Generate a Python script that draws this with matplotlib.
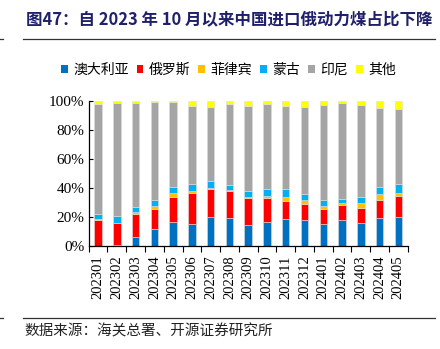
import matplotlib
matplotlib.use("Agg")
import matplotlib.pyplot as plt
import numpy as np
from matplotlib.patches import Patch
from matplotlib.lines import Line2D

plt.rcParams['font.family'] = ['Noto Sans CJK SC', 'DejaVu Sans']

months = ["202301", "202302", "202303", "202304", "202305", "202306", "202307", "202308",
          "202309", "202310", "202311", "202312", "202401", "202402", "202403", "202404", "202405"]
australia = [0.0, 0.7, 6.2, 11.9, 16.5, 14.9, 19.7, 19.3, 14.7, 16.5, 18.8, 17.7, 14.9, 18.1, 15.8, 19.3, 19.7]
russia    = [17.7, 15.4, 16.0, 13.3, 17.4, 21.3, 19.7, 18.8, 18.3, 16.8, 12.4, 11.0, 10.8, 10.3, 10.3, 12.4, 14.9]
philippines = [1.1, 0.0, 1.2, 2.3, 2.8, 1.6, 0.7, 0.4, 0.9, 1.1, 2.5, 3.0, 1.8, 1.2, 3.7, 3.9, 1.6]
mongolia  = [3.2, 4.3, 3.2, 4.4, 4.1, 4.6, 4.7, 3.7, 4.2, 4.8, 5.7, 4.3, 3.9, 2.8, 4.1, 5.2, 6.7]
indonesia = [75.5, 78.2, 72.0, 67.0, 58.1, 54.2, 50.9, 55.3, 58.2, 58.5, 56.9, 59.9, 65.4, 66.3, 63.1, 53.9, 51.6]
other     = [2.5, 1.4, 1.4, 1.1, 1.1, 3.4, 4.1, 2.5, 3.7, 2.3, 3.7, 4.1, 3.2, 1.4, 3.0, 5.3, 5.5]

series_names = ["澳大利亚", "俄罗斯", "菲律宾", "蒙古", "印尼", "其他"]
series_vals = [australia, russia, philippines, mongolia, indonesia, other]
colors = ["#0070C0", "#FF0000", "#FFC000", "#00B0F0", "#A5A5A5", "#FFFF00"]

fig = plt.figure(figsize=(4.4, 3.49), dpi=100)
ax = fig.add_axes([0.2016, 0.2951, 0.725, 0.4164])

x = np.arange(len(months))
bottom = np.zeros(len(months))
for name, vals, c in zip(series_names, series_vals, colors):
    v = np.array(vals)
    ax.bar(x, v, width=0.4, bottom=bottom, color=c, edgecolor="#DDDDDD", linewidth=0.4, label=name)
    bottom += v

ax.set_xlim(-0.5, len(months) - 0.5)
ax.set_ylim(0, 100)
ax.set_yticks([0, 20, 40, 60, 80, 100])
ax.set_yticklabels([f"{v}%" for v in [0, 20, 40, 60, 80, 100]],
                   family=['Liberation Serif'], fontsize=11)
ax.tick_params(axis='y', direction='in', length=3, width=0.8, pad=3)

ax.set_xticks(x)
ax.set_xticklabels(months, rotation=90, family=['Liberation Serif'], fontsize=10.5)
ax.tick_params(axis='x', which='major', length=0, pad=7)
ax.set_xticks(np.arange(-0.5, len(months) + 0.5, 1), minor=True)
ax.tick_params(axis='x', which='minor', direction='out', length=4, width=0.8)

for s in ['top', 'right']:
    ax.spines[s].set_visible(False)
for s in ['left', 'bottom']:
    ax.spines[s].set_color('black')
    ax.spines[s].set_linewidth(0.9)

handles = [Patch(facecolor=c, edgecolor='none') for c in colors]
fig.legend(handles, series_names, loc='center', bbox_to_anchor=(228.5 / 440, 1 - 70 / 349), ncol=6,
           frameon=False, fontsize=10, handlelength=0.5, handleheight=0.45,
           handletextpad=0.4, columnspacing=0.55, borderaxespad=0)

fig.text(26 / 440, 1 - 20 / 349, "图47：自 2023 年 10 月以来中国进口俄动力煤占比下降",
         fontsize=11.85, fontweight='bold', color='#1F1F6B', va='center', ha='left')
fig.add_artist(Line2D([23 / 440, 435 / 440], [1 - 39 / 349, 1 - 39 / 349], color='#333333', linewidth=0.9))
fig.add_artist(Line2D([0, 3 / 440], [1 - 39 / 349, 1 - 39 / 349], color='#333333', linewidth=0.9))
fig.add_artist(Line2D([23 / 440, 435 / 440], [1 - 318 / 349, 1 - 318 / 349], color='#333333', linewidth=0.9))
fig.add_artist(Line2D([0, 3 / 440], [1 - 318 / 349, 1 - 318 / 349], color='#333333', linewidth=0.9))
fig.text(24 / 440, 1 - 331 / 349, "数据来源：海关总署、开源证券研究所", fontsize=10.5,
         color='#222222', va='center', ha='left')

fig.savefig("out.png", dpi=100)
